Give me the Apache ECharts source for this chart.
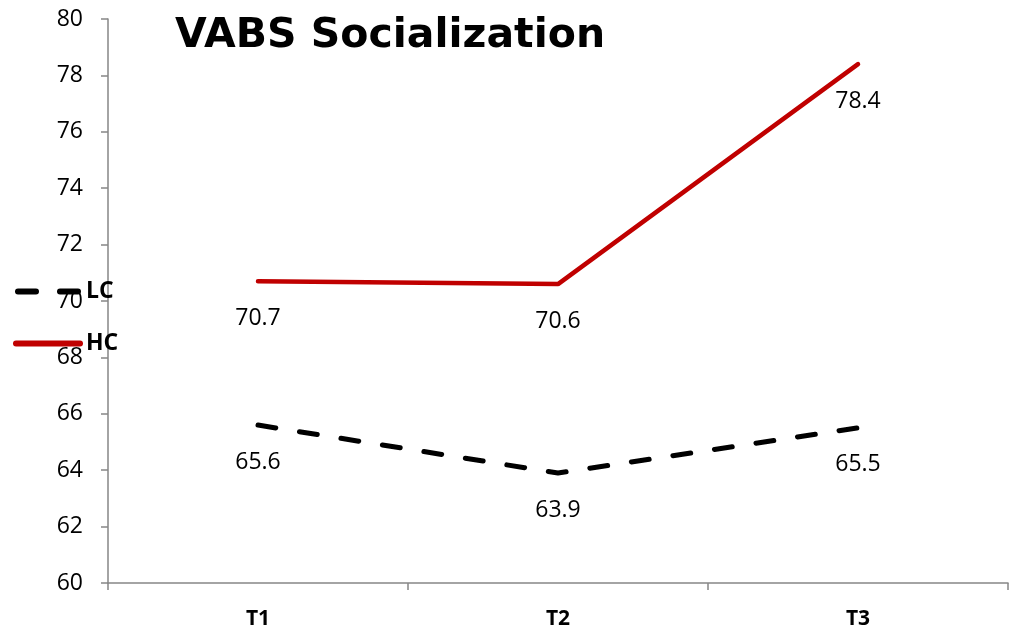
<!DOCTYPE html>
<html>
<head>
<meta charset="utf-8">
<script src="https://cdn.jsdelivr.net/npm/echarts@6/dist/echarts.min.js"></script>
<style>
  html, body { margin: 0; padding: 0; background: #fff; }
  #chart { width: 1011px; height: 630px; }
</style>
</head>
<body>
<div id="chart"></div>
<script>
  const categories = ['T1', 'T2', 'T3'];
  const lcValues = [65.6, 63.9, 65.5];
  const hcValues = [70.7, 70.6, 78.4];

  const chart = echarts.init(document.getElementById('chart'));

  const FONT = "'Open Sans', 'Liberation Sans', sans-serif";

  // 라벨 공통 스타일
  const labelStyle = {
    show: true,
    position: 'bottom',
    distance: 25,
    fontSize: 23,
    color: '#000',
    fontFamily: FONT,
    formatter: (p) => p.value.toFixed(1),
  };

  const option = {
    backgroundColor: '#fff',
    animation: false,
    title: {
      text: 'VABS Socialization',
      left: 170,
      top: 11,
      textStyle: {
        fontFamily: "'Comic Sans MS', 'DejaVu Sans', sans-serif",
        fontWeight: 'bold',
        fontSize: 41,
        color: '#000',
      },
    },
    legend: {
      orient: 'vertical',
      left: 8,
      top: 275,
      itemWidth: 70,
      itemHeight: 6,
      itemGap: 29,
      textStyle: {
        fontSize: 23,
        fontWeight: 'bold',
        color: '#000',
        fontFamily: FONT,
        padding: [0, 0, 0, -2],
      },
      data: [
        { name: 'LC', icon: 'path://M3,0H21A3,3,0,0,1,21,6H3A3,3,0,0,1,3,0Z M45,0H63A3,3,0,0,1,63,6H45A3,3,0,0,1,45,0Z', itemStyle: { color: '#000' } },
        { name: 'HC', icon: 'path://M3,0H67A3,3,0,0,1,67,6H3A3,3,0,0,1,3,0Z', itemStyle: { color: '#C00000' } },
      ],
    },
    grid: {
      left: 108,
      right: 3,
      top: 19,
      bottom: 46,
      containLabel: false,
    },
    xAxis: {
      type: 'category',
      data: categories,
      boundaryGap: true,
      axisLine: { lineStyle: { color: '#868686', width: 1.5 } },
      axisTick: { show: true, length: 7, lineStyle: { color: '#868686', width: 1.5 } },
      axisLabel: {
        margin: 26,
        fontSize: 21,
        fontWeight: 'bold',
        color: '#000',
        fontFamily: FONT,
      },
    },
    yAxis: {
      type: 'value',
      min: 60,
      max: 80,
      interval: 2,
      axisLine: { show: true, lineStyle: { color: '#868686', width: 1.5 } },
      axisTick: { show: true, length: 7, lineStyle: { color: '#868686', width: 1.5 } },
      splitLine: { show: false },
      axisLabel: {
        margin: 25,
        fontSize: 23,
        color: '#000',
        fontFamily: FONT,
      },
    },
    series: [
      {
        name: 'LC',
        type: 'line',
        data: lcValues,
        symbol: 'circle',
        symbolSize: 1,
        lineStyle: { color: '#000', width: 5, type: [18, 24], cap: 'round' },
        itemStyle: { color: '#000' },
        label: labelStyle,
      },
      {
        name: 'HC',
        type: 'line',
        data: hcValues,
        symbol: 'circle',
        symbolSize: 1,
        lineStyle: { color: '#C00000', width: 4.5, cap: 'round' },
        itemStyle: { color: '#C00000' },
        label: labelStyle,
      },
    ],
  };

  chart.setOption(option);
</script>
</body>
</html>
